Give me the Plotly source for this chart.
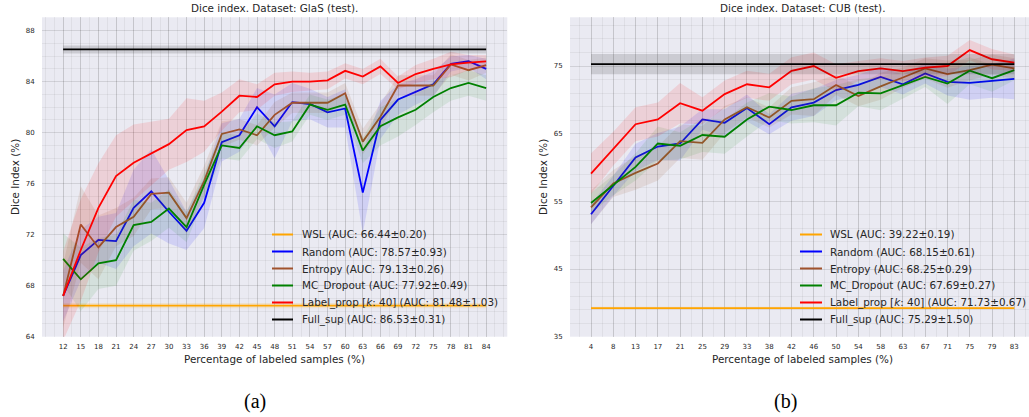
import plotly.graph_objects as go
import numpy as np

W, H = 1029, 417

# ---------------- GlaS data ----------------
glas_x = list(range(12, 85, 3))
glas_random = [67.2, 70.4, 71.6, 71.5, 74.1, 75.4, 73.8, 72.3, 74.5, 79.25, 79.8, 82.0, 80.5, 82.4, 82.25, 81.6, 81.9, 75.3, 81.0, 82.6, 83.2, 83.8, 85.4, 85.6, 85.0]
glas_random_std = [2.0, 2.0, 1.8, 2.2, 3.0, 3.3, 2.5, 1.5, 2.0, 1.5, 1.3, 1.5, 2.5, 1.5, 1.2, 1.2, 1.5, 3.2, 1.5, 1.2, 1.0, 1.0, 0.6, 0.5, 0.8]
glas_entropy = [67.2, 72.8, 71.0, 72.6, 73.4, 75.2, 75.3, 73.3, 76.2, 79.9, 80.25, 79.8, 81.4, 82.35, 82.35, 82.35, 83.1, 79.3, 81.25, 83.7, 83.7, 83.7, 85.35, 84.9, 85.3]
glas_entropy_std = [2.5, 3.0, 2.5, 1.5, 1.5, 1.2, 1.2, 1.2, 1.2, 1.0, 0.8, 0.8, 1.0, 0.8, 0.8, 0.8, 0.8, 1.0, 1.0, 0.8, 0.8, 0.8, 0.8, 0.8, 0.6]
glas_mc = [70.1, 68.5, 69.75, 70.0, 72.75, 73.0, 74.05, 72.6, 75.9, 79.0, 78.8, 80.5, 79.8, 80.1, 82.2, 81.8, 82.2, 78.6, 80.5, 81.2, 81.8, 82.8, 83.5, 83.9, 83.5]
glas_mc_std = [2.0, 2.5, 2.0, 2.0, 2.0, 1.5, 1.5, 1.2, 1.0, 1.0, 1.0, 1.0, 1.0, 0.8, 0.8, 0.8, 0.8, 1.0, 1.5, 1.5, 1.2, 1.2, 1.0, 1.0, 1.0]
glas_label = [67.2, 70.8, 74.1, 76.6, 77.65, 78.4, 79.1, 80.2, 80.5, 81.65, 82.9, 82.8, 83.8, 84.0, 84.0, 84.1, 84.85, 84.4, 85.2, 83.9, 84.6, 85.0, 85.35, 85.5, 85.6]
glas_label_std = [3.5, 4.0, 3.5, 3.2, 3.0, 2.5, 2.0, 2.5, 2.0, 1.5, 1.3, 1.0, 0.9, 0.8, 0.7, 0.7, 0.6, 0.6, 0.6, 0.5, 0.7, 0.8, 1.0, 0.6, 0.5]
glas_full, glas_full_std = 86.53, 0.31
glas_wsl, glas_wsl_std = 66.44, 0.20
glas_auc = {"WSL": "66.44±0.20", "Random": "78.57±0.93", "Entropy": "79.13±0.26",
            "MC_Dropout": "77.92±0.49", "Label_prop": "81.48±1.03", "Full_sup": "86.53±0.31"}

# ---------------- CUB data ----------------
cub_ticklabels = ["4", "8", "13", "17", "21", "25", "29", "33", "38", "42", "46", "50", "54", "58", "63", "67", "71", "75", "79", "83"]
cub_random = [53.1, 57.3, 61.5, 63.1, 63.55, 67.1, 66.6, 68.8, 66.4, 68.9, 69.6, 71.45, 72.2, 73.4, 72.3, 73.9, 72.65, 72.5, 72.8, 73.1]
cub_random_std = [1.5, 1.5, 2.0, 2.0, 2.5, 1.5, 2.0, 2.0, 1.5, 2.0, 2.0, 1.5, 1.5, 1.5, 1.5, 1.5, 2.0, 2.5, 2.5, 3.0]
cub_entropy = [54.1, 57.65, 59.2, 60.6, 63.9, 63.65, 67.1, 68.9, 67.4, 69.85, 70.1, 72.2, 70.55, 72.0, 73.3, 74.65, 73.8, 74.4, 75.2, 74.65]
cub_entropy_std = [2.5, 2.0, 2.5, 2.5, 2.5, 2.5, 2.0, 1.5, 1.5, 2.0, 2.5, 1.5, 1.5, 2.0, 1.5, 1.5, 2.0, 1.5, 1.5, 1.5]
cub_mc = [54.75, 57.4, 60.1, 63.55, 63.2, 64.8, 64.55, 67.1, 69.0, 68.5, 69.2, 69.2, 71.05, 70.95, 72.2, 73.4, 72.4, 74.3, 73.2, 74.4]
cub_mc_std = [1.5, 1.5, 2.0, 2.5, 2.0, 2.5, 2.5, 2.5, 2.0, 2.0, 2.5, 3.0, 2.0, 2.5, 2.0, 1.5, 3.0, 2.0, 2.0, 1.5]
cub_label = [59.1, 62.8, 66.4, 67.1, 69.5, 68.4, 70.85, 72.3, 71.85, 74.3, 75.0, 73.25, 74.25, 74.65, 74.25, 74.75, 75.0, 77.35, 76.0, 75.5]
cub_label_std = [3.0, 2.5, 2.5, 2.5, 3.0, 2.0, 2.0, 2.0, 2.0, 2.0, 2.0, 2.0, 1.5, 1.5, 1.5, 1.5, 1.5, 1.5, 1.5, 1.2]
cub_full, cub_full_std = 75.29, 1.50
cub_wsl, cub_wsl_std = 39.22, 0.19
cub_auc = {"WSL": "39.22±0.19", "Random": "68.15±0.61", "Entropy": "68.25±0.29",
           "MC_Dropout": "67.69±0.27", "Label_prop": "71.73±0.67", "Full_sup": "75.29±1.50"}

series_order = ["WSL", "Random", "Entropy", "MC_Dropout", "Label_prop", "Full_sup"]
colors = {"WSL": "#FFA500", "Random": "#0000FF", "Entropy": "#A0522D",
          "MC_Dropout": "#008000", "Label_prop": "#FF0000", "Full_sup": "#000000"}
fills = {"WSL": "rgba(255,165,0,0.15)", "Random": "rgba(0,0,255,0.11)", "Entropy": "rgba(160,82,45,0.12)",
         "MC_Dropout": "rgba(0,128,0,0.09)", "Label_prop": "rgba(255,0,0,0.11)", "Full_sup": "rgba(0,0,0,0.13)"}


def px(x):
    return x / W


def py(y):
    return 1 - y / H


fig = go.Figure()


def add_series(x, mean, std, key, label, xa, ya):
    mean = np.asarray(mean, dtype=float)
    std = np.asarray(std, dtype=float)
    up = mean + std
    lo = mean - std
    xs = list(x)
    fig.add_trace(go.Scatter(x=xs + xs[::-1], y=list(up) + list(lo[::-1]), fill="toself",
                             fillcolor=fills[key], line=dict(width=0), mode="lines",
                             hoverinfo="skip", showlegend=False, xaxis=xa, yaxis=ya))
    fig.add_trace(go.Scatter(x=xs, y=list(mean), mode="lines", name=label,
                             line=dict(color=colors[key], width=1.8),
                             showlegend=False, xaxis=xa, yaxis=ya))


def legend_label(key, auc):
    name = key if key != "Label_prop" else "Label_prop [<i>k</i>: 40]"
    return f"{name} (AUC: {auc[key]})"


def add_panel(x, data, auc, xa, ya):
    for key in series_order:
        mean, std = data[key]
        add_series(x, mean, std, key, legend_label(key, auc), xa, ya)


n1 = len(glas_x)
glas_data = {
    "WSL": ([glas_wsl] * n1, [glas_wsl_std] * n1),
    "Random": (glas_random, glas_random_std),
    "Entropy": (glas_entropy, glas_entropy_std),
    "MC_Dropout": (glas_mc, glas_mc_std),
    "Label_prop": (glas_label, glas_label_std),
    "Full_sup": ([glas_full] * n1, [glas_full_std] * n1),
}
cub_x = list(range(len(cub_ticklabels)))
n2 = len(cub_x)
cub_data = {
    "WSL": ([cub_wsl] * n2, [cub_wsl_std] * n2),
    "Random": (cub_random, cub_random_std),
    "Entropy": (cub_entropy, cub_entropy_std),
    "MC_Dropout": (cub_mc, cub_mc_std),
    "Label_prop": (cub_label, cub_label_std),
    "Full_sup": ([cub_full] * n2, [cub_full_std] * n2),
}

add_panel(glas_x, glas_data, glas_auc, "x", "y")
add_panel(cub_x, cub_data, cub_auc, "x2", "y2")

FONT = "DejaVu Sans"
TXT = "#262626"
BG = "#EAEAF2"
GRID = "rgba(0,0,0,0.11)"
MGRID = "rgba(0,0,0,0.05)"

common_ax = dict(showline=False, zeroline=False, gridcolor=GRID, gridwidth=1,
                 tickfont=dict(family=FONT, size=7, color=TXT), automargin=False,
                 ticks="outside", tickcolor="rgba(0,0,0,0)")

ydom = [py(336.7), py(17.3)]

fig.update_layout(
    width=W, height=H,
    margin=dict(l=0, r=0, t=0, b=0),
    paper_bgcolor="white", plot_bgcolor=BG,
    showlegend=False,
    xaxis=dict(domain=[px(42), px(507.3)], range=[8.4, 87.6], tickmode="array", tickvals=glas_x,
               ticklen=3, minor=dict(dtick=1.5, tick0=12, showgrid=True, gridcolor=MGRID), anchor="y", **common_ax),
    yaxis=dict(domain=ydom, range=[64, 89.05], tickmode="linear", tick0=64, dtick=4,
               ticklen=5, minor=dict(dtick=1, tick0=64, showgrid=True, gridcolor=MGRID), anchor="x", **common_ax),
    xaxis2=dict(domain=[px(570), 1.0], range=[-0.943, 19.66], tickmode="array", tickvals=cub_x,
                ticktext=cub_ticklabels, ticklen=3,
                minor=dict(dtick=0.5, tick0=0, showgrid=True, gridcolor=MGRID), anchor="y2", **common_ax),
    yaxis2=dict(domain=ydom, range=[35, 82.2], tickmode="linear", tick0=35, dtick=10,
                ticklen=5, minor=dict(dtick=2, tick0=35, showgrid=True, gridcolor=MGRID), anchor="x2", **common_ax),
)


def ann(text, x, y, size, rot=0, family=FONT, color=TXT, xanchor="center"):
    fig.add_annotation(text=text, x=px(x), y=py(y), xref="paper", yref="paper",
                       showarrow=False, textangle=rot, xanchor=xanchor, yanchor="middle",
                       font=dict(family=family, size=size, color=color))


ann("Dice index. Dataset: GlaS (test).", 274.5, 8.5, 10.4)
ann("Dice index. Dataset: CUB (test).", 802.5, 8.5, 10.4)
ann("Percentage of labeled samples (%)", 274.8, 359, 10.4)
ann("Percentage of labeled samples (%)", 802.8, 359, 10.4)
ann("Dice Index (%)", 15, 177, 10.4, rot=-90)
ann("Dice Index (%)", 543, 177, 10.4, rot=-90)
ann("(a)", 255, 401, 20, family="Liberation Serif", color="black")
ann("(b)", 785, 401, 20, family="Liberation Serif", color="black")


# legends (sample line + label), rows 17px apart
def add_legend(auc, line_x0, line_x1, text_x, y_first, dy=17.0):
    for i, key in enumerate(series_order):
        yy = y_first + dy * i
        fig.add_shape(type="line", xref="paper", yref="paper",
                      x0=px(line_x0), x1=px(line_x1), y0=py(yy), y1=py(yy),
                      line=dict(color=colors[key], width=2))
        ann(legend_label(key, auc), text_x, yy, 10.4, xanchor="left")


add_legend(glas_auc, 272, 293, 300, 234.5)
add_legend(cub_auc, 800, 822, 828, 234.5)

fig.write_html("out.html", config={"displayModeBar": False},
               post_script="document.body.style.margin='0px';document.body.style.overflow='hidden';")
